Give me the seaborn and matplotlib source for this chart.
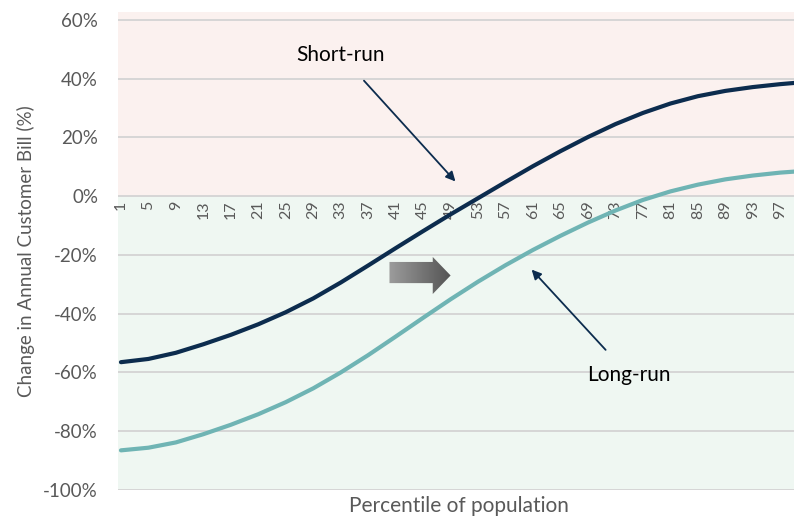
import numpy as np
import pandas as pd
import matplotlib
matplotlib.use('Agg')
import matplotlib.pyplot as plt
import seaborn as sns
from matplotlib.patches import Polygon
from matplotlib.colors import LinearSegmentedColormap
from matplotlib.ticker import FuncFormatter

# Data (percentile -> % change in annual bill)
percentiles = [1, 5, 9, 13, 17, 21, 25, 29, 33, 37, 41, 45, 49, 53,
               57, 61, 65, 69, 73, 77, 81, 85, 89, 93, 97, 100]
short_run = [-56.5, -55.4, -53.3, -50.4, -47.2, -43.6, -39.5, -34.8, -29.4, -23.6,
             -17.7, -11.9, -6.2, -0.7, 4.8, 10.2, 15.3, 20.1, 24.5, 28.3,
             31.5, 34.0, 35.8, 37.1, 38.1, 38.7]
long_run = [-86.5, -85.6, -83.8, -81.0, -77.8, -74.2, -70.1, -65.4, -60.0, -54.1,
            -47.8, -41.4, -35.1, -29.1, -23.5, -18.3, -13.5, -9.0, -4.9, -1.3,
            1.6, 3.9, 5.7, 7.0, 8.0, 8.5]
tick_labels = list(range(1, 100, 4))
y_ticks = [-100, -80, -60, -40, -20, 0, 20, 40, 60]

df = pd.DataFrame({'Percentile': percentiles * 2,
                   'Change': short_run + long_run,
                   'Scenario': ['Short-run'] * len(percentiles) + ['Long-run'] * len(percentiles)})

sns.set_style('white')
plt.rcParams['font.family'] = ['Lato', 'DejaVu Sans']

fig = plt.figure(figsize=(7.94, 5.18), dpi=100)
ax = fig.add_axes([0.148, 0.054, 0.852, 0.922])

# background bands
ax.axhspan(0, 62.5, color='#fbf1ef', zorder=0, lw=0)
ax.axhspan(-100, 0, color='#eff7f2', zorder=0, lw=0)
for yv in y_ticks:
    ax.axhline(yv, color='#d6d6d6', lw=1.4, zorder=1)

sns.lineplot(data=df, x='Percentile', y='Change', hue='Scenario',
             palette={'Short-run': '#0c2c4e', 'Long-run': '#6fb4b4'},
             linewidth=3.0, legend=False, ax=ax, zorder=3)

# block arrow with gradient
arrow = Polygon([(40.1, -22.4), (46.4, -22.4), (46.4, -20.7), (49.0, -27.0),
                 (46.4, -33.3), (46.4, -29.6), (40.1, -29.6)],
                closed=True, facecolor='none', edgecolor='none', zorder=4)
ax.add_patch(arrow)
cmap = LinearSegmentedColormap.from_list('g', ['#9c9c9c', '#545454'])
grad = np.linspace(0, 1, 100).reshape(1, -1)
im = ax.imshow(grad, cmap=cmap, extent=(40.1, 49.0, -33.3, -20.7),
               aspect='auto', zorder=4, interpolation='bilinear')
im.set_clip_path(arrow)
ax.set_xlim(0.5, 99.0)
ax.set_ylim(-100, 62.5)

# annotations
ax.annotate('Short-run', xy=(49.7, 5.0), xytext=(33.0, 48.0),
            fontsize=15, color='black', ha='center', va='center',
            arrowprops=dict(arrowstyle='-|>', color='#0c2c4e', lw=1.3,
                            mutation_scale=14, shrinkA=12, shrinkB=0))
ax.annotate('Long-run', xy=(60.8, -25.0), xytext=(75.0, -61.0),
            fontsize=15, color='black', ha='center', va='center',
            arrowprops=dict(arrowstyle='-|>', color='#0c2c4e', lw=1.3,
                            mutation_scale=14, shrinkA=12, shrinkB=0))

# axes styling
for s in ax.spines.values():
    s.set_visible(False)
ax.spines['bottom'].set_position(('data', 0))
ax.set_xticks(tick_labels)
ax.set_xticklabels([str(t) for t in tick_labels], rotation=90, fontsize=11.5, color='#595959')
ax.tick_params(axis='x', length=0, pad=3)
ax.set_yticks(y_ticks)
ax.yaxis.set_major_formatter(FuncFormatter(lambda v, p: f'{int(v)}%'))
ax.tick_params(axis='y', length=0, labelsize=13.5, labelcolor='#595959', pad=14)
ax.set_xlabel('')
ax.set_ylabel('Change in Annual Customer Bill (%)', fontsize=13.5, color='#595959', labelpad=6)
fig.text(0.578, 0.003, 'Percentile of population', fontsize=15, color='#595959',
         ha='center', va='bottom')

fig.savefig('out.png', dpi=100)
